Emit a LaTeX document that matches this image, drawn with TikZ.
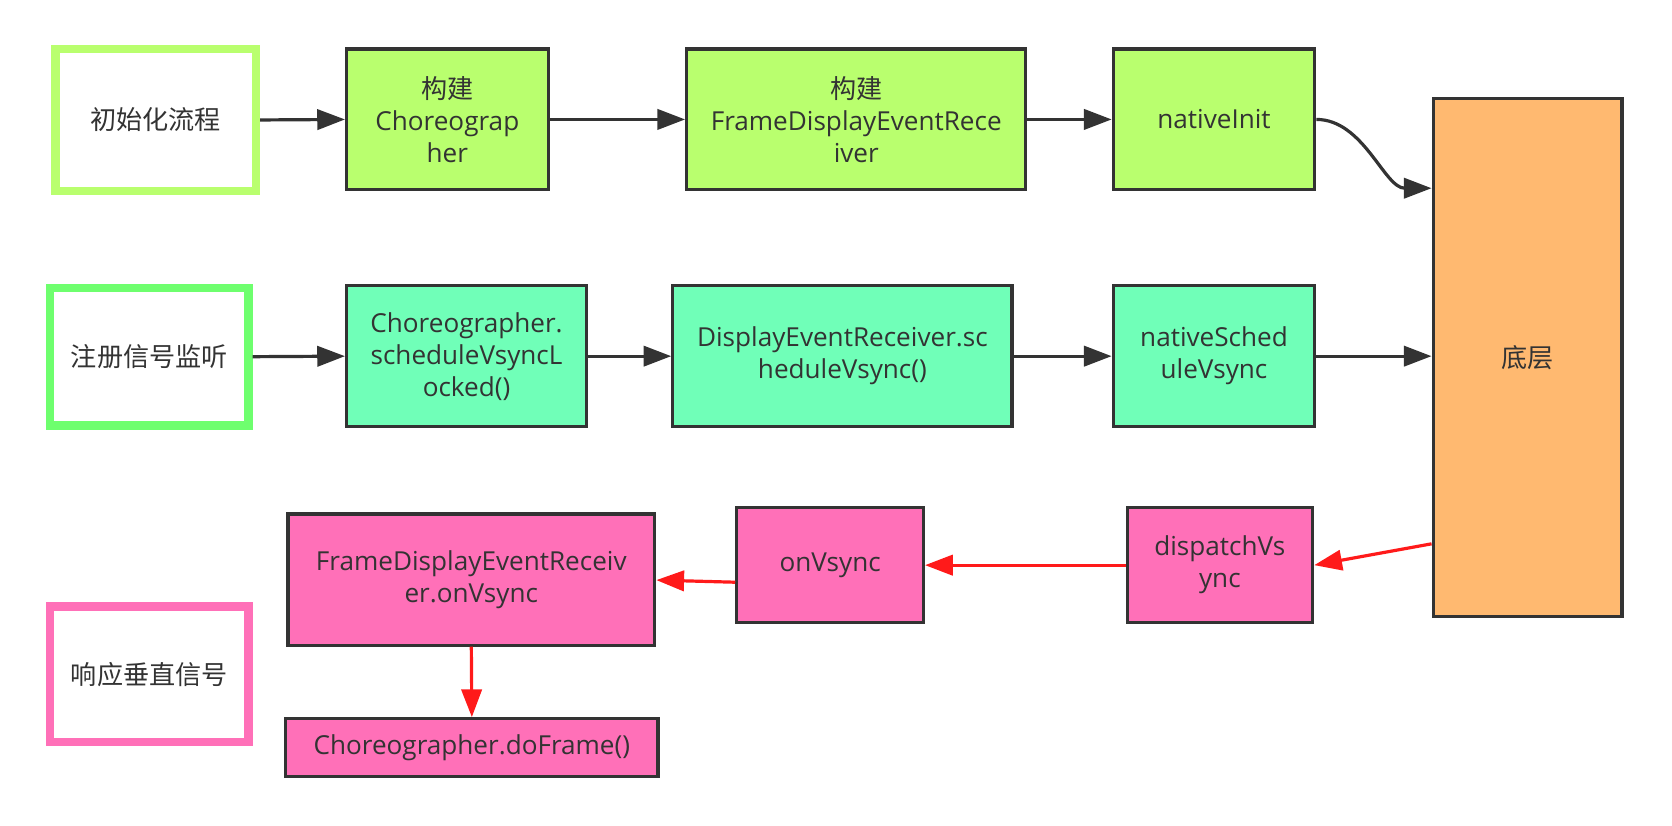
\documentclass[tikz,border=0pt]{standalone}
\usepackage{fontspec}
\setmainfont{Open Sans}
\newfontfamily\cjk{Noto Sans CJK SC}
\usetikzlibrary{arrows.meta,calc}
\definecolor{ink}{HTML}{333333}
\definecolor{gone}{HTML}{B9FF6E}
\definecolor{gtwo}{HTML}{6EFF6E}
\definecolor{mint}{HTML}{70FFB8}
\definecolor{pinkc}{HTML}{FF70B8}
\definecolor{orangec}{HTML}{FFB970}
\definecolor{redc}{HTML}{FF1A1A}
\tikzset{
  box/.style={draw=ink, line width=3pt, inner sep=0pt, align=center, text=ink,
    font=\fontsize{24.5}{30}\selectfont},
  lab/.style={draw=#1, line width=8pt, fill=white, inner sep=0pt, align=center, text=ink,
    font=\fontsize{24.5}{30}\selectfont\cjk},
  arr/.style={draw=ink, line width=3pt, -{Triangle[length=26pt,width=19pt]}},
  rarr/.style={draw=redc, line width=3pt, -{Triangle[length=26pt,width=19pt]}}
}
\begin{document}
\begin{tikzpicture}[x=1pt,y=-1pt]
\useasboundingbox (0,0) rectangle (1568,774);
% labels
\node[lab=gone, minimum width=188, minimum height=133] (L1) at (146,112.5) {初始化流程};
\node[lab=gtwo, minimum width=186, minimum height=129] (L2) at (140,334.5) {注册信号监听};
\node[lab=pinkc, minimum width=186, minimum height=127] (L3) at (140,632.5) {响应垂直信号};
% row 1
\node[box, fill=gone, minimum width=189, minimum height=132] (C1) at (419.5,112) {{\cjk 构建}\\Choreograp\\her};
\node[box, fill=gone, minimum width=318, minimum height=132] (F1) at (803,112) {{\cjk 构建}\\FrameDisplayEventRece\\iver};
\node[box, fill=gone, minimum width=189, minimum height=132] (N1) at (1138.5,112) {nativeInit};
% bottom layer
\node[box, fill=orangec, minimum width=177, minimum height=486] (B) at (1432.5,335) {\cjk 底层};
% row 2
\node[box, fill=mint, minimum width=225, minimum height=132] (C2) at (437.5,334) {Choreographer.\\scheduleVsyncL\\ocked()};
\node[box, fill=mint, minimum width=318, minimum height=132] (D2) at (790,334) {DisplayEventReceiver.sc\\heduleVsync()};
\node[box, fill=mint, minimum width=189, minimum height=132] (N2) at (1138.5,334) {nativeSched\\uleVsync};
% row 3
\node[box, fill=pinkc, minimum width=344, minimum height=123] (F3) at (442,543.5) {FrameDisplayEventReceiv\\er.onVsync};
\node[box, fill=pinkc, minimum width=175, minimum height=108] (O3) at (778.5,530) {onVsync};
\node[box, fill=pinkc, minimum width=174, minimum height=108] (DV3) at (1144,530) {dispatchVs\\ync};
\node[box, fill=pinkc, minimum width=349, minimum height=54] (DF3) at (442.5,701) {Choreographer.doFrame()};
% connectors
\draw[arr] (L1.east) -- (C1.west);
\draw[arr] (C1.east) -- (F1.west);
\draw[arr] (F1.east) -- (N1.west);
\coordinate (Bin1) at ($(B.north west)+(0,86)$);
\draw[arr] (N1.east) to[out=0,in=180,looseness=0.9] (Bin1);
\draw[arr] (L2.east) -- (C2.west);
\draw[arr] (C2.east) -- (D2.west);
\draw[arr] (D2.east) -- (N2.west);
\draw[arr] (N2.east) -- (N2.east -| B.west);
\coordinate (Bout) at ($(B.west)+(0,175)$);
\draw[rarr] (Bout) -- (DV3.east);
\draw[rarr] (DV3.west) -- (O3.east);
\coordinate (Oout) at ($(O3.west)+(0,16)$);
\coordinate (Fin) at ($(F3.east)+(0,0.5)$);
\draw[rarr] (Oout) -- (Fin);
\draw[rarr] (F3.south) -- (DF3.north);
\end{tikzpicture}
\end{document}
